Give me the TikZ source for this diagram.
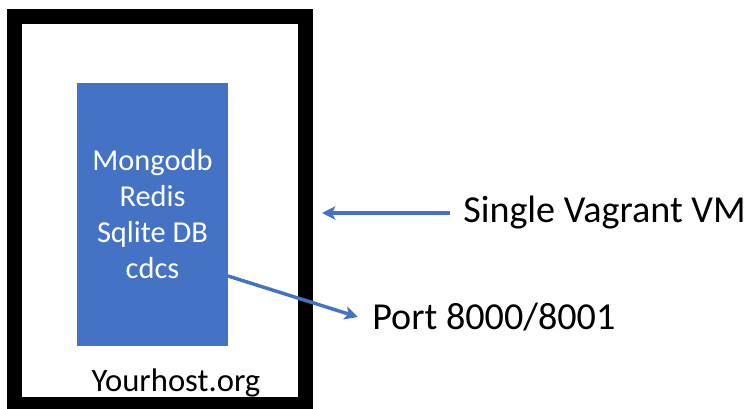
\documentclass[tikz,border=0pt]{standalone}
\usepackage{fontspec}
\setmainfont{Carlito}
\usepackage{xcolor}
\usetikzlibrary{positioning,calc,arrows.meta}

\definecolor{boxblue}{HTML}{4472C4}

\begin{document}
\begin{tikzpicture}[x=0.75pt,y=-0.75pt,
    flow/.style={draw=boxblue, line width=2.6pt,
        -{Stealth[length=10pt,width=10pt,inset=2.5pt]}},
    label/.style={font=\fontsize{28.6}{33}\selectfont, inner sep=0pt}]
    \useasboundingbox (0,0) rectangle (751,409);

    % VM frame
    \draw [line width=11.25pt] (14.5,16.5) rectangle (305.5,404.5);

    % Services box
    \node [fill=boxblue, text=white, align=center, inner sep=0pt,
           minimum width=113.25pt, minimum height=197.25pt,
           font=\fontsize{22.8}{27}\selectfont] (db) at (152.5,214.5)
        {Mongodb\\Redis\\Sqlite DB\\cdcs};

    % Host name
    \node [anchor=base, inner sep=0pt, font=\fontsize{24.5}{29}\selectfont]
        (host) at (176,392) {Yourhost.org};

    % Labels
    \node [label, anchor=base west] (vm) at (463,223) {Single Vagrant VM};
    \node [label, anchor=base west] (port) at (372,330) {Port 8000/8001};

    % Arrows
    \coordinate (vmtip) at (322,213);
    \coordinate (dbport) at (228,276);
    \coordinate (porttip) at (358,317);
    \draw [flow] ([xshift=-10pt]vm.west |- vmtip) -- (vmtip);
    \draw [flow] (dbport) -- (porttip);
\end{tikzpicture}
\end{document}
